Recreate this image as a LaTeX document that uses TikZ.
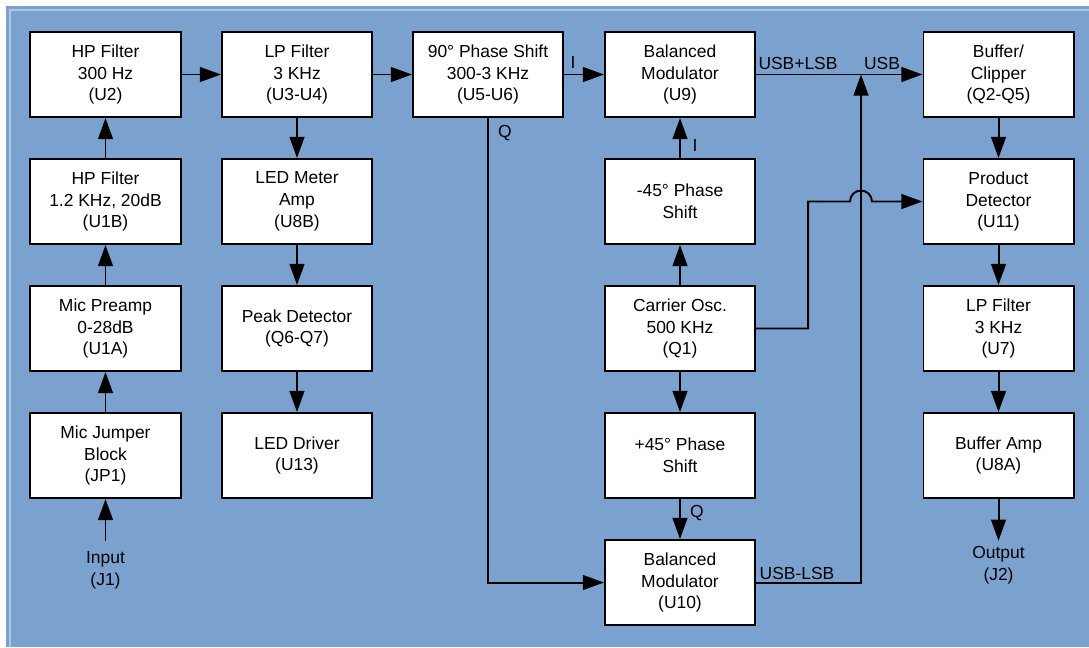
\documentclass[tikz,border=0pt]{standalone}
\usepackage{fontspec}
\setmainfont{Liberation Sans}
\usetikzlibrary{arrows.meta, calc}
\definecolor{PanelBlue}{RGB}{123, 162, 206}
\definecolor{EdgeBlue}{RGB}{172, 198, 228}

\begin{document}
\begin{tikzpicture}[
    x=0.025cm, y=-0.025cm,
    block/.style={
        draw=black, fill=white, line width=1.4pt,
        minimum width=3.75cm, minimum height=2.125cm,
        align=center, inner sep=0pt,
        font=\fontsize{12.4}{15.6}\selectfont
    },
    lbl/.style={inner sep=0pt, font=\fontsize{12.4}{15.6}\selectfont},
    arr/.style={-{Triangle[length=15pt, width=10.5pt]}, line width=1.4pt},
]
\useasboundingbox (0,0) rectangle (1089,647);

%% Background panel
\fill[PanelBlue] (6,6) rectangle (1089,647);
\draw[EdgeBlue, line width=1.4pt] (10,647) -- (10,10) -- (1089,10);

%% Microphone chain
\node[block] (hp300) at (105.5, 74.5)  {HP Filter\\300 Hz\\(U2)};
\node[block] (hp1k)  at (105.5, 201.5) {HP Filter\\1.2 KHz, 20dB\\(U1B)};
\node[block] (pre)   at (105.5, 328.5) {Mic Preamp\\0-28dB\\(U1A)};
\node[block] (jmp)   at (105.5, 455.5) {Mic Jumper\\Block\\(JP1)};
\node[lbl, align=center, inner sep=7pt] (inp) at (105.5, 570) {Input\\(J1)};

\draw[arr] (inp) -- (jmp);
\draw[arr] (jmp) -- (pre);
\draw[arr] (pre) -- (hp1k);
\draw[arr] (hp1k) -- (hp300);

%% Meter chain
\node[block] (lp3k)  at (297, 74.5)  {LP Filter\\3 KHz\\(U3-U4)};
\node[block] (mamp)  at (297, 201.5) {LED Meter\\Amp\\(U8B)};
\node[block] (peak)  at (297, 328.5) {Peak Detector\\(Q6-Q7)};
\node[block] (ledd)  at (297, 455.5) {LED Driver\\(U13)};

\draw[arr] (hp300) -- (lp3k);
\draw[arr] (lp3k) -- (mamp);
\draw[arr] (mamp) -- (peak);
\draw[arr] (peak) -- (ledd);

%% Phasing
\node[block] (ps90)  at (488, 74.5)  {90° Phase Shift\\300-3 KHz\\(U5-U6)};

\draw[arr] (lp3k) -- (ps90);

%% Carrier and modulators
\node[block] (mod9)  at (680, 74.5)  {Balanced\\Modulator\\(U9)};
\node[block] (psm45) at (680, 201.5) {-45° Phase\\Shift};
\node[block] (osc)   at (680, 328.5) {Carrier Osc.\\500 KHz\\(Q1)};
\node[block] (psp45) at (680, 455.5) {+45° Phase\\Shift};
\node[block] (mod10) at (680, 582.5) {Balanced\\Modulator\\(U10)};

\draw[arr] (ps90) -- (mod9);
\draw[arr] (ps90.south) |- (mod10.west);
\draw[arr] (psm45) -- (mod9);
\draw[arr] (osc) -- (psm45);
\draw[arr] (osc) -- (psp45);
\draw[arr] (psp45) -- (mod10);

\node[lbl] at (573, 62)  {I};
\node[lbl] at (505, 133) {Q};
\node[lbl] at (695, 145) {I};
\node[lbl] at (697, 513) {Q};

%% Receive chain
\node[block] (buf)   at (998.5, 74.5)  {Buffer/\\Clipper\\(Q2-Q5)};
\node[block] (det)   at (998.5, 201.5) {Product\\Detector\\(U11)};
\node[block] (lp3kb) at (998.5, 328.5) {LP Filter\\3 KHz\\(U7)};
\node[block] (bamp)  at (998.5, 455.5) {Buffer Amp\\(U8A)};
\node[lbl, align=center, inner sep=4pt] (outp) at (998.5, 565.5) {Output\\(J2)};

\draw[arr] (buf) -- (det);
\draw[arr] (det) -- (lp3kb);
\draw[arr] (lp3kb) -- (bamp);
\draw[arr] (bamp) -- (outp);

%% Sideband sum and carrier feed
\coordinate (tap) at (861, 74.5);
\draw[arr] (mod9) -- (buf);
\draw[arr] (mod10.east) -| (tap);
\draw[arr] (osc.east) -- ++(52,0) |- ($(tap |- det.west)+(-11,0)$)
    arc[start angle=180, end angle=0, radius=7.8pt] -- (det.west);

\node[lbl] at (798, 63)  {USB+LSB};
\node[lbl] at (882, 63)  {USB};
\node[lbl] at (797, 573) {USB-LSB};

\end{tikzpicture}
\end{document}
